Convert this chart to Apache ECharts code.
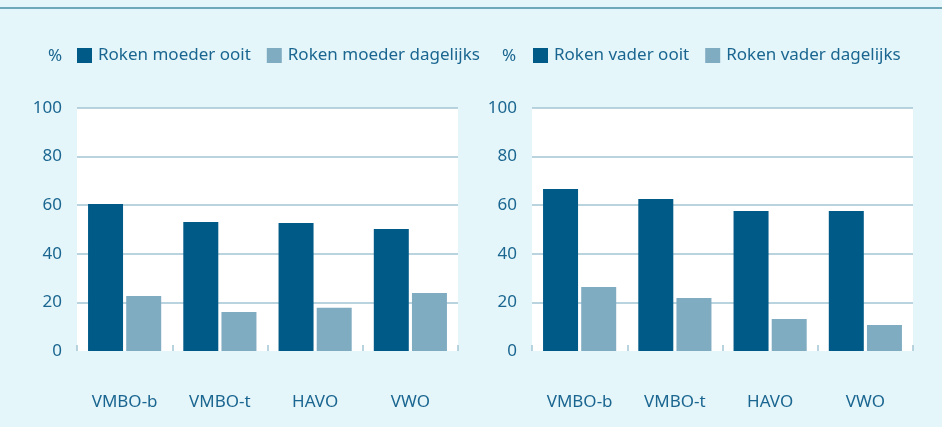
<!DOCTYPE html>
<html>
<head>
<meta charset="utf-8">
<script src="https://cdn.jsdelivr.net/npm/echarts@6/dist/echarts.min.js"></script>
<style>
  html, body { margin: 0; padding: 0; background: #e4f6fa; }
  #chart { width: 942px; height: 427px; }
</style>
</head>
<body>
<div id="chart"></div>
<script>
// schooltypes
const categories = ['VMBO-b', 'VMBO-t', 'HAVO', 'VWO']
const yTicks = [0, 20, 40, 60, 80, 100]

// roken moeder (%)
const moederOoit = [60.5, 53.1, 52.7, 50.2]
const moederDagelijks = [22.6, 16.0, 17.8, 23.9]

// roken vader (%)
const vaderOoit = [66.7, 62.6, 57.6, 57.6]
const vaderDagelijks = [26.3, 21.8, 13.2, 10.7]

const DARK = '#005a87'
const LIGHT = '#80acc2'
const TEXT = '#1b6690'
const GRID = '#a3c6d5'
const FONT = '"Noto Sans", sans-serif'

const chart = echarts.init(document.getElementById('chart'))

const makeX = (gridIndex) => ({
  type: 'category',
  gridIndex,
  data: categories,
  axisLine: { show: false },
  axisTick: { show: true, inside: true, length: 6, lineStyle: { color: GRID, width: 1.5 } },
  axisLabel: { color: TEXT, fontSize: 17, fontFamily: FONT, margin: 43 }
})

const makeY = (gridIndex) => ({
  type: 'value',
  gridIndex,
  min: yTicks[0],
  max: yTicks[yTicks.length - 1],
  interval: 20,
  axisLine: { show: false },
  axisTick: { show: false },
  axisLabel: { color: TEXT, fontSize: 17, fontFamily: FONT, margin: 15 },
  splitLine: { lineStyle: { color: ['transparent', GRID, GRID, GRID, GRID, GRID], width: 1.5 } }
})

const makeBar = (name, data, color, idx) => ({
  name,
  type: 'bar',
  xAxisIndex: idx,
  yAxisIndex: idx,
  data,
  barWidth: 35,
  barGap: '9%',
  itemStyle: { color },
  emphasis: { disabled: true }
})

const legendStyle = {
  top: 47,
  padding: 0,
  icon: 'rect',
  itemWidth: 15,
  itemHeight: 15,
  itemGap: 16,
  textStyle: { color: TEXT, fontSize: 17, fontFamily: FONT, padding: [0, 0, 0, 1] }
}

const option = {
  backgroundColor: '#e4f6fa',
  animation: false,
  graphic: [
    { type: 'rect', shape: { x: 0, y: 7, width: 942, height: 2 }, style: { fill: '#6fa7bb' } },
    { type: 'text', x: 48, y: 56, style: { text: '%', fill: TEXT, font: '17px ' + FONT, verticalAlign: 'middle' } },
    { type: 'text', x: 502, y: 56, style: { text: '%', fill: TEXT, font: '17px ' + FONT, verticalAlign: 'middle' } }
  ],
  legend: [
    Object.assign({ left: 77, data: ['Roken moeder ooit', 'Roken moeder dagelijks'] }, legendStyle),
    Object.assign({ left: 533, data: ['Roken vader ooit', 'Roken vader dagelijks'] }, legendStyle)
  ],
  grid: [
    { left: 77, right: 484, top: 108, bottom: 76, show: true, backgroundColor: '#fff', borderWidth: 0 },
    { left: 532, right: 29, top: 108, bottom: 76, show: true, backgroundColor: '#fff', borderWidth: 0 }
  ],
  xAxis: [makeX(0), makeX(1)],
  yAxis: [makeY(0), makeY(1)],
  series: [
    makeBar('Roken moeder ooit', moederOoit, DARK, 0),
    makeBar('Roken moeder dagelijks', moederDagelijks, LIGHT, 0),
    makeBar('Roken vader ooit', vaderOoit, DARK, 1),
    makeBar('Roken vader dagelijks', vaderDagelijks, LIGHT, 1)
  ]
}

chart.setOption(option)
</script>
</body>
</html>
